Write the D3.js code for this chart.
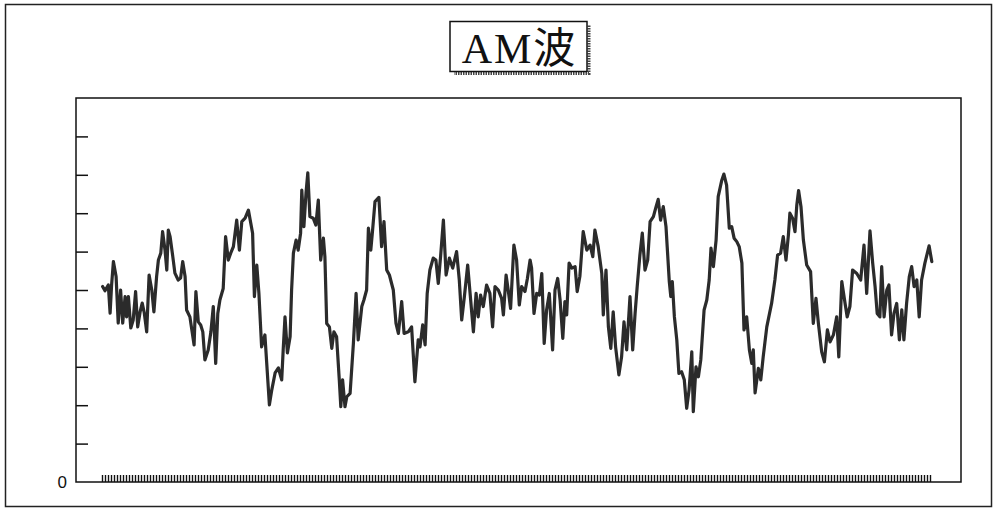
<!DOCTYPE html>
<html>
<head>
<meta charset="utf-8">
<script src="https://cdn.jsdelivr.net/npm/d3@7"></script>
<style>
  html, body { margin: 0; padding: 0; background: #fff; }
  svg { display: block; }
</style>
</head>
<body>
<svg id="chart" width="993" height="510"></svg>
<script>
// Chart title
const title = "AM波";

// Sample positions (sample index) of the recorded waveform
const sampleTime = [
  0.2,1.0,2.1,2.7,3.2,3.8,4.7,5.4,6.2,6.9,7.7,8.2,8.8,9.6,10.4,11.2,11.9,12.7,13.4,14.1,
  14.9,15.7,16.6,17.3,18.2,18.8,19.6,20.2,21.0,21.6,22.1,22.7,23.6,24.3,25.4,26.2,26.9,27.7,28.2,29.3,
  30.7,31.3,32.1,32.9,33.6,34.3,35.4,36.3,37.1,37.9,38.6,39.3,40.4,41.2,42.1,42.9,43.8,44.9,45.8,46.6,
  47.7,48.8,50.2,50.8,51.6,52.3,53.2,54.3,54.9,55.8,56.6,57.7,58.8,59.9,60.4,61.0,61.8,62.7,63.2,63.8,
  64.7,65.4,66.2,66.6,67.3,68.0,68.6,69.3,70.4,71.3,72.1,72.9,73.8,74.3,74.9,75.8,76.6,77.3,78.2,79.1,
  79.6,80.2,81.0,81.6,82.7,83.8,84.7,85.4,86.6,87.3,88.2,88.8,89.6,90.2,91.0,92.3,93.2,94.0,94.9,95.8,
  97.1,98.0,98.8,99.9,100.7,102.1,103.2,104.3,105.4,106.0,106.9,107.7,108.4,109.3,110.4,111.3,112.1,112.9,113.8,114.7,
  115.8,116.9,118.2,119.1,119.9,120.8,121.9,122.7,123.8,124.7,125.4,126.2,127.1,128.2,129.3,130.2,131.0,132.1,133.2,133.8,
  134.7,135.4,136.2,137.3,138.2,139.1,139.9,141.0,141.8,142.7,143.2,144.0,144.9,145.8,146.6,147.4,148.2,149.1,150.2,151.0,
  151.9,152.7,153.6,154.3,154.9,155.7,156.6,157.7,158.4,159.3,160.4,161.6,162.7,163.6,164.3,165.4,166.6,167.1,168.0,168.8,
  169.6,170.4,171.2,172.3,173.2,174.0,174.9,176.0,176.9,177.7,178.4,179.3,180.1,181.0,181.9,182.7,183.8,184.7,185.4,186.2,
  187.1,188.0,188.4,189.1,189.6,190.1,190.8,191.6,192.3,193.2,194.1,194.9,195.7,196.6,197.1,198.0,198.8,199.6,200.7,201.6,
  202.4,203.0,203.8,204.7,205.4,206.6,207.3,208.2,209.1,209.9,210.7,211.6,212.4,213.3,214.0,214.9,215.8,216.6,217.1,217.7,
  218.8,219.6,220.4,221.6,223.2,224.3,225.2,226.2,227.1,228.0,228.8,229.3,230.2,231.0,231.6,232.2,233.0,233.8,234.9,236.2,
  237.1,238.0,238.8,239.9,240.8,241.8,242.7,243.8,244.9,245.6,246.6,247.7,248.4,249.3,250.2,251.6,252.9,254.0,254.9,256.0,
  256.9,257.7,258.4,259.3,259.9,260.7,261.6,262.3,263.2,264.0,264.9,265.8,266.6,267.3,268.2,269.1,269.9,270.7,271.6,272.4,
  273.2,274.3,275.7,276.6
];

// Signal level at each sample
const signal = [
  5.09,4.98,5.13,4.40,5.13,5.74,5.35,4.14,5.00,4.14,4.83,4.30,4.83,4.01,4.22,4.96,4.04,4.43,4.66,4.40,
  3.91,5.39,5.00,4.43,5.35,5.78,5.96,6.52,6.04,5.52,6.56,6.39,5.87,5.44,5.26,5.31,5.74,5.35,4.48,4.30,
  3.57,4.96,4.17,4.09,3.91,3.18,3.44,3.91,4.57,3.09,4.39,4.74,5.04,6.39,5.78,5.96,6.13,6.82,6.04,6.78,
  6.87,7.08,6.48,4.83,5.65,4.92,3.52,3.83,3.10,2.01,2.40,2.84,2.97,2.66,3.44,4.30,3.36,3.78,5.00,5.96,
  6.30,6.04,6.48,7.60,6.65,7.52,8.05,6.91,6.87,6.69,7.34,5.78,6.35,5.87,4.13,4.04,3.48,3.91,3.78,2.66,
  1.96,2.66,1.96,2.22,2.31,3.61,4.91,3.70,4.57,4.74,5.00,6.61,6.04,6.56,7.30,7.41,6.13,6.78,5.52,5.39,
  5.00,4.13,3.87,4.70,3.87,3.91,4.04,2.61,3.70,3.52,4.09,3.57,4.91,5.52,5.83,5.78,5.17,5.91,6.82,5.39,
  5.83,5.57,6.00,5.26,4.22,4.83,5.65,4.91,3.91,4.91,4.30,4.87,4.57,5.13,4.91,4.04,5.09,5.00,4.78,4.35,
  5.39,5.00,4.52,6.17,5.78,4.61,5.09,4.96,5.30,5.78,5.57,4.39,4.91,4.87,5.43,3.61,4.48,4.91,3.44,5.00,
  5.30,4.74,3.74,4.70,4.35,5.70,5.57,5.61,4.96,5.36,6.52,6.04,6.17,5.87,6.56,6.13,5.43,4.35,5.52,4.04,
  3.48,4.43,3.52,2.79,3.26,4.17,3.44,4.83,3.44,4.39,5.09,5.91,6.48,5.52,5.78,6.78,6.91,7.17,7.36,6.82,
  7.17,6.65,6.13,5.22,4.83,5.22,4.30,3.70,2.83,2.87,2.66,1.92,2.40,3.39,1.83,3.00,2.74,3.18,4.48,4.74,
  5.26,6.09,5.61,6.30,7.43,7.86,8.02,7.73,6.61,6.65,6.35,6.26,6.13,5.70,3.96,4.30,3.44,3.09,3.44,2.32,
  2.96,2.66,3.26,4.04,4.65,5.26,5.91,5.96,6.39,5.78,6.43,7.00,6.87,6.52,7.21,7.59,7.17,6.30,5.65,5.48,
  4.13,4.78,4.13,3.39,3.13,3.96,3.65,3.83,4.30,3.26,5.22,4.65,4.30,4.57,5.52,5.43,5.26,6.17,4.91,6.54,
  5.70,5.09,4.39,4.30,5.61,4.30,5.00,5.13,3.83,4.39,4.65,3.70,4.48,3.70,4.65,5.35,5.61,5.09,5.26,4.30,
  5.26,5.70,6.15,5.74
];

// Vertical axis: tick levels, only zero carries a label
const levelTicks = [0, 1, 2, 3, 4, 5, 6, 7, 8, 9];
const levelLabels = ["0"];

// One tick mark per sample along the time axis
const sampleCount = 277;

const svg = d3.select("#chart");
const plot = { left: 76, top: 98, right: 961, bottom: 482 };

// Outer page frame
svg.append("rect")
  .attr("x", 5.5).attr("y", 4.5)
  .attr("width", 986).attr("height", 502)
  .attr("fill", "none").attr("stroke", "#222").attr("stroke-width", 1.5);

const x = d3.scaleLinear().domain([0, 276.67]).range([102, 932]);
const y = d3.scaleLinear().domain([0, 10]).range([plot.bottom, plot.top]);

// Plot frame
svg.append("rect")
  .attr("x", plot.left).attr("y", plot.top)
  .attr("width", plot.right - plot.left).attr("height", plot.bottom - plot.top)
  .attr("fill", "none").attr("stroke", "#111").attr("stroke-width", 1.5);

// Left axis: inward ticks
const yAxis = d3.axisLeft(y)
  .tickValues(levelTicks)
  .tickSize(-12)
  .tickPadding(9)
  .tickFormat((d, i) => levelLabels[i] || "");
const gy = svg.append("g").attr("transform", `translate(${plot.left},0)`).call(yAxis);
gy.select(".domain").remove();
gy.selectAll(".tick line").attr("stroke", "#111").attr("stroke-width", 1.5)
  .filter(d => d === 0).remove();
gy.selectAll(".tick text")
  .attr("font-family", "'Liberation Sans', Arial, sans-serif")
  .attr("font-size", 17).attr("fill", "#111");

// Bottom axis: dense sample ticks
const xAxis = d3.axisBottom(x)
  .tickValues(d3.range(sampleCount))
  .tickSize(-7)
  .tickFormat("");
const gx = svg.append("g").attr("transform", `translate(0,${plot.bottom})`).call(xAxis);
gx.select(".domain").remove();
gx.selectAll(".tick line").attr("stroke", "#111").attr("stroke-width", 1.4);

// Waveform
const pts = d3.zip(sampleTime, signal);
const line = d3.line().x(d => x(d[0])).y(d => y(d[1]));
svg.append("path")
  .datum(pts)
  .attr("d", line)
  .attr("fill", "none")
  .attr("stroke", "#2b2b2b")
  .attr("stroke-width", 3.2)
  .attr("stroke-linejoin", "round")
  .attr("stroke-linecap", "round");

// Title box with dotted drop shadow
const tb = { x: 450, y: 21.5, w: 137, h: 50 };
const g = svg.append("g");
g.append("path")
  .attr("d", `M${tb.x + tb.w + 2},${tb.y + 4} V${tb.y + tb.h + 2} H${tb.x + 4}`)
  .attr("fill", "none").attr("stroke", "#444").attr("stroke-width", 3)
  .attr("stroke-dasharray", "1.5,1");
g.append("rect")
  .attr("x", tb.x).attr("y", tb.y).attr("width", tb.w).attr("height", tb.h)
  .attr("fill", "#fff").attr("stroke", "#111").attr("stroke-width", 1.5);
g.append("text")
  .attr("x", tb.x + tb.w / 2 + 1).attr("y", 63)
  .attr("text-anchor", "middle")
  .attr("font-family", "'Liberation Serif', 'Times New Roman', 'Noto Sans CJK JP', serif")
  .attr("font-size", 42)
  .attr("letter-spacing", 2)
  .attr("fill", "#111")
  .text(title);
</script>
</body>
</html>
